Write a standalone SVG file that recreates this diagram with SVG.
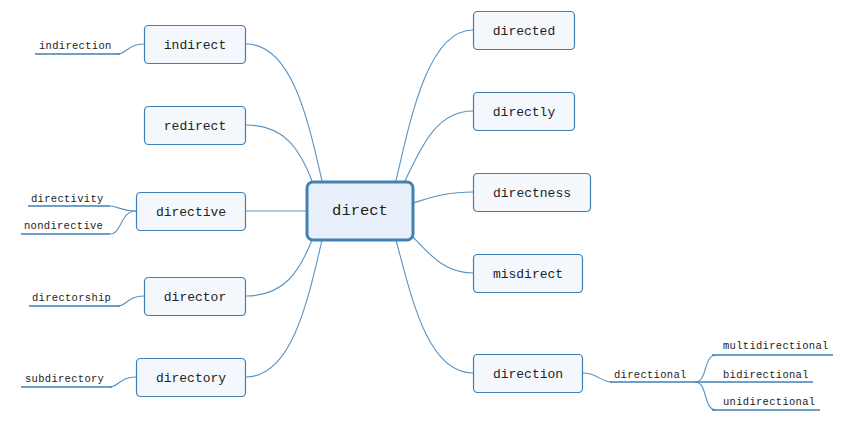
<svg xmlns="http://www.w3.org/2000/svg" width="855" height="421" viewBox="0 0 855 421">
<style>
.n rect{fill:#f4f8fd;stroke:#3f7fb3;stroke-width:1.2}
.n text{font-family:"Liberation Mono",monospace;font-size:13px;fill:#222;text-anchor:middle;dominant-baseline:central}
.s{font-family:"Liberation Mono",monospace;font-size:10.5px;fill:#222;letter-spacing:0.3px}
.c path{fill:none;stroke:#5a93c2;stroke-width:1.1}
.c path.u{stroke:#3f7fb3;stroke-width:1.3}
</style>
<rect width="855" height="421" fill="#fff"/>
<g class="c" id="connectors">
<path d="M246,44 C292,44 308,120 322,181"/>
<path d="M246,125 C285,125 300,150 312,181"/>
<path d="M246,211 L306,211"/>
<path d="M246,296 C285,296 300,270 312,240"/>
<path d="M246,377 C292,377 308,300 322,240"/>
<path d="M473,30 C430,30 412,110 396,181"/>
<path d="M473,111 C435,111 420,150 405,181"/>
<path d="M473,192 C445,192 430,198 413,203"/>
<path d="M473,273 C445,273 430,255 413,237"/>
<path d="M473,373 C428,373 412,300 396,240"/>
<path d="M144,44 C128,44 126,54 118,54"/>
<path class="u" d="M35,54 L120,54"/>
<path d="M136,211 C120,211 118,206 110,206"/>
<path class="u" d="M28,206 L110,206"/>
<path d="M136,211 C120,211 122,234 110,234"/>
<path class="u" d="M21,234 L110,234"/>
<path d="M144,296 C128,296 126,306 118,306"/>
<path class="u" d="M29,306 L120,306"/>
<path d="M136,377 C120,377 118,387 110,387"/>
<path class="u" d="M21,387 L112,387"/>
<path d="M583,373 C598,373 600,382 612,382"/>
<path class="u" d="M610,382 L696,382"/>
<path d="M695,382 C708,382 703,355 716,355"/>
<path class="u" d="M712,355 L833,355"/>
<path class="u" d="M695,382 L813,382"/>
<path d="M695,382 C708,382 703,410 716,410"/>
<path class="u" d="M712,410 L820,410"/>
</g>
<g id="direct"><rect x="307" y="182" width="106" height="58" rx="6" fill="#e8f1fb" stroke="#4381b2" stroke-width="3"/><text x="360" y="211" font-family="Liberation Mono,monospace" font-size="15.5px" fill="#222" text-anchor="middle" dominant-baseline="central">direct</text></g>
<g class="n" id="indirect"><rect x="144.5" y="25.5" width="101" height="38" rx="4"/><text x="195" y="45">indirect</text></g>
<g class="n" id="redirect"><rect x="144.5" y="106.5" width="101" height="38" rx="4"/><text x="195" y="126">redirect</text></g>
<g class="n" id="directive"><rect x="136.5" y="192.5" width="109" height="38" rx="4"/><text x="191" y="212">directive</text></g>
<g class="n" id="director"><rect x="144.5" y="277.5" width="101" height="38" rx="4"/><text x="195" y="297">director</text></g>
<g class="n" id="directory"><rect x="136.5" y="358.5" width="109" height="38" rx="4"/><text x="191" y="378">directory</text></g>
<g class="n" id="directed"><rect x="473.5" y="11.5" width="101" height="38" rx="4"/><text x="524" y="31">directed</text></g>
<g class="n" id="directly"><rect x="473.5" y="92.5" width="101" height="38" rx="4"/><text x="524" y="112">directly</text></g>
<g class="n" id="directness"><rect x="473.5" y="173.5" width="117" height="38" rx="4"/><text x="532" y="193">directness</text></g>
<g class="n" id="misdirect"><rect x="473.5" y="254.5" width="109" height="38" rx="4"/><text x="528" y="274">misdirect</text></g>
<g class="n" id="direction"><rect x="473.5" y="354.5" width="109" height="38" rx="4"/><text x="528" y="374">direction</text></g>
<g id="subtopics">
<text class="s" x="39" y="49">indirection</text>
<text class="s" x="31" y="202">directivity</text>
<text class="s" x="24" y="229">nondirective</text>
<text class="s" x="32" y="301">directorship</text>
<text class="s" x="25" y="382">subdirectory</text>
<text class="s" x="614" y="378">directional</text>
<text class="s" x="723" y="349">multidirectional</text>
<text class="s" x="723" y="378">bidirectional</text>
<text class="s" x="723" y="405">unidirectional</text>
</g>
</svg>
